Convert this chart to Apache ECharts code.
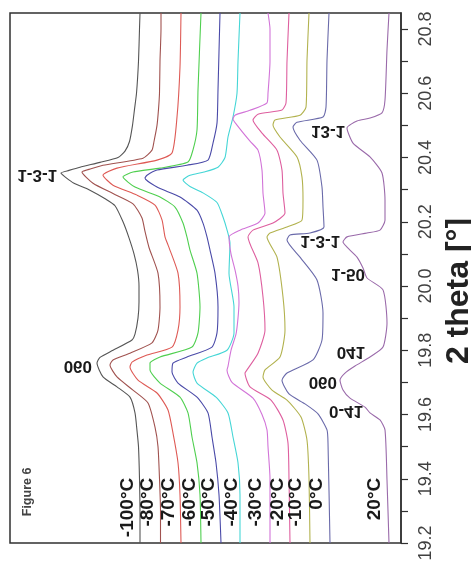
<!DOCTYPE html>
<html>
<head>
<meta charset="utf-8">
<script src="https://cdn.jsdelivr.net/npm/echarts@6/dist/echarts.min.js"></script>
<style>
html,body{margin:0;padding:0;background:#fff;}
#chart{width:471px;height:569px;}
</style>
</head>
<body>
<div id="chart"></div>
<script>
// Temperatures (series names)
const temperatures = ['-100°C','-80°C','-70°C','-60°C','-50°C','-40°C','-30°C','-20°C','-10°C','0°C','20°C'];

// Each curve: [2theta (deg), intensity (a.u., stacked offset)]
const curveM100 = [[20.85,261],[20.80,261.5],[20.70,262.5],[20.60,264.5],[20.55,266.5],[20.50,268.5],[20.45,271.5],[20.42,276],[20.40,283],[20.385,301],[20.37,321],[20.36,332],[20.352,340],[20.34,336],[20.32,327],[20.30,312],[20.27,295],[20.25,286],[20.20,278],[20.15,272],[20.10,267],[20.05,263.5],[20.00,262],[19.95,262],[19.90,263],[19.85,266],[19.832,269],[19.80,288],[19.778,301],[19.76,304],[19.717,298],[19.686,284],[19.654,271],[19.605,266],[19.55,264],[19.50,262.5],[19.40,261.5],[19.30,261],[19.20,261]];
const curveM80 = [[20.85,240],[20.80,240],[20.70,241],[20.60,241.5],[20.55,242.5],[20.50,244],[20.45,247],[20.423,249],[20.398,258],[20.376,298],[20.365,310],[20.355,319],[20.32,308],[20.288,288],[20.256,268],[20.212,259],[20.17,256],[20.12,252],[20.04,243],[19.935,241],[19.863,243],[19.823,249],[19.791,271],[19.77,288],[19.754,291],[19.717,284],[19.676,268],[19.636,253],[19.561,246],[19.50,243],[19.40,241.5],[19.30,240.5],[19.20,240.5]];
const curveM70 = [[20.85,220],[20.682,221],[20.526,224],[20.414,229],[20.392,244],[20.367,284],[20.345,298],[20.314,288],[20.283,264],[20.252,246],[20.206,239],[20.153,236],[20.128,233],[20.04,223],[19.935,221],[19.863,223],[19.81,229],[19.785,254],[19.763,269],[19.748,271],[19.707,263],[19.667,244],[19.614,233],[19.542,228],[19.45,223],[19.35,221],[19.20,220]];
const curveM60 = [[20.85,200],[20.61,203],[20.486,204],[20.424,208],[20.386,213],[20.367,241],[20.355,268],[20.34,278],[20.308,266],[20.277,241],[20.246,226],[20.196,218],[20.152,214],[20.112,211],[20.04,204],[19.935,201],[19.854,203],[19.81,209],[19.779,241],[19.76,251],[19.739,251],[19.698,241],[19.654,221],[19.605,213],[19.53,209],[19.45,204],[19.35,201],[19.20,200]];
const curveM50 = [[20.85,181],[20.61,183],[20.507,184],[20.445,188],[20.392,193],[20.376,214],[20.361,244],[20.345,254],[20.336,256],[20.308,244],[20.277,221],[20.236,204],[20.196,198],[20.153,194],[20.112,191],[20.04,186],[19.935,183],[19.854,184],[19.81,189],[19.779,214],[19.76,228],[19.732,229],[19.698,223],[19.654,204],[19.605,193],[19.53,189],[19.45,185],[19.35,182],[19.20,180]];
const curveM40 = [[20.85,161],[20.70,163],[20.60,164],[20.526,168],[20.464,173],[20.40,176],[20.37,183],[20.355,197],[20.345,211],[20.33,218],[20.31,211],[20.29,198],[20.26,184],[20.215,178],[20.175,174],[20.134,171],[20.04,172],[19.935,167],[19.854,167],[19.80,174],[19.776,194],[19.76,204],[19.732,208],[19.698,204],[19.654,185],[19.605,173],[19.53,168],[19.45,163],[19.35,161],[19.20,161]];
const curveM30 = [[20.85,133],[20.80,131],[20.70,131],[20.60,133],[20.57,134],[20.547,151],[20.532,166],[20.52,168],[20.501,164],[20.451,151],[20.423,143],[20.361,139],[20.289,138],[20.227,136],[20.196,143],[20.174,161],[20.153,172],[20.10,170],[20.05,166],[20.00,163],[19.95,162],[19.90,163],[19.85,165],[19.80,170],[19.75,173],[19.738,174],[19.70,169],[19.651,148],[19.60,139],[19.552,134],[19.50,133],[19.40,131],[19.30,131],[19.20,131]];
const curveM20 = [[20.85,112],[20.70,114],[20.57,115],[20.548,119],[20.535,143],[20.517,148],[20.476,139],[20.423,124],[20.361,119],[20.289,118],[20.227,116],[20.196,128],[20.174,148],[20.153,153],[20.072,143],[19.966,138],[19.863,136],[19.791,143],[19.739,154],[19.729,156],[19.686,151],[19.645,130],[19.583,118],[19.511,113],[19.40,112],[19.20,111]];
const curveM10 = [[20.85,92],[20.703,94],[20.557,95],[20.532,101],[20.517,126],[20.501,128],[20.464,121],[20.402,104],[20.339,99],[20.268,98],[20.205,99],[20.184,114],[20.165,131],[20.153,134],[20.09,124],[19.966,118],[19.863,116],[19.779,121],[19.739,136],[19.717,138],[19.676,129],[19.645,114],[19.592,100],[19.52,94],[19.40,92],[19.20,91]];
const curveP0 = [[20.85,72],[20.703,74],[20.557,75],[20.526,78],[20.51,104],[20.495,108],[20.454,101],[20.392,84],[20.308,79],[20.246,78],[20.184,77],[20.165,91],[20.159,111],[20.143,114],[20.09,101],[20.019,84],[19.916,78],[19.832,79],[19.77,88],[19.729,114],[19.707,119],[19.664,112],[19.633,96],[19.602,83],[19.552,74],[19.511,73],[19.20,71]];
const curveP20 = [[20.85,12],[20.735,14],[20.579,16],[20.539,19],[20.523,31],[20.514,44],[20.492,54],[20.445,48],[20.402,31],[20.352,19],[20.268,16],[20.205,16],[20.174,21],[20.165,34],[20.153,54],[20.137,58],[20.121,54],[20.09,44],[20.056,38],[20.025,34],[19.988,18],[19.885,14],[19.81,18],[19.779,31],[19.751,46],[19.729,56],[19.707,61],[19.676,58],[19.651,51],[19.623,36],[19.605,31],[19.583,21],[19.552,16],[19.396,14],[19.20,12]];

const curves = [curveM100, curveM80, curveM70, curveM60, curveM50, curveM40, curveM30, curveM20, curveM10, curveP0, curveP20];
const colors = ['#555555','#a0524f','#de5a55','#4fcf4f','#4a4aa8','#45d6d6','#d274d8','#de5f9f','#b2b24e','#6a6aaa','#9a6aaa'];

// Temperature labels: intensity position (a.u.) and 2theta of their upper end
const tempLabelIntensity = [273,253,232,211,192,169,145,123,105,84,26];
const tempLabelTheta = [19.403,19.403,19.403,19.403,19.403,19.403,19.403,19.403,19.403,19.403,19.403];

// Peak (hkl) labels
const peakLabels = ['1-3-1','060','13-1','1-3-1','1-50','041','060','0-41'];
const peakLabelTheta = [20.346,19.751,20.483,20.140,20.037,19.795,19.701,19.611];
const peakLabelIntensity = [344,309,56,61,36,36,64,38];

// Axis ticks and labels
const thetaTicks = [19.2,19.3,19.4,19.5,19.6,19.7,19.8,19.9,20.0,20.1,20.2,20.3,20.4,20.5,20.6,20.7,20.8];
const thetaTickLabels = [19.2,19.4,19.6,19.8,20.0,20.2,20.4,20.6,20.8];

const chart = echarts.init(document.getElementById('chart'), null, {renderer:'canvas'});

const series = curves.map((c, i) => ({
  name: temperatures[i],
  type: 'line',
  data: c.map(p => [p[1], p[0]]),
  showSymbol: false,
  symbol: 'none',
  smooth: 0.2,
  lineStyle: {color: colors[i], width: 1.1},
  itemStyle: {color: colors[i]},
  animation: false,
  silent: true,
  z: 2
}));

series.push({
  type: 'custom',
  name: 'temperature labels',
  data: tempLabelIntensity.map((v, i) => [v, tempLabelTheta[i]]),
  renderItem: (params, api) => {
    const p = api.coord([api.value(0), api.value(1)]);
    return {
      type: 'text', x: p[0], y: p[1], rotation: Math.PI / 2,
      style: {text: temperatures[params.dataIndex], font: 'bold 19px "Liberation Sans", Arial, sans-serif',
        fill: '#1a1a1a', align: 'right', verticalAlign: 'middle', textAlign: 'right', textVerticalAlign: 'middle'}
    };
  },
  animation: false, silent: true, z: 5
});

series.push({
  type: 'custom',
  name: 'peak labels',
  data: peakLabelIntensity.map((v, i) => [v, peakLabelTheta[i]]),
  renderItem: (params, api) => {
    const p = api.coord([api.value(0), api.value(1)]);
    return {
      type: 'text', x: p[0], y: p[1], scaleY: -1,
      style: {text: peakLabels[params.dataIndex], font: 'bold 17px "Liberation Sans", Arial, sans-serif',
        fill: '#1a1a1a', align: 'right', verticalAlign: 'middle', textAlign: 'right', textVerticalAlign: 'middle'}
    };
  },
  animation: false, silent: true, z: 5
});

series.push({
  type: 'custom',
  name: 'figure label',
  data: [[373, 19.359]],
  renderItem: (params, api) => {
    const p = api.coord([api.value(0), api.value(1)]);
    return {
      type: 'text', x: p[0], y: p[1], rotation: Math.PI / 2,
      style: {text: 'Figure 6', font: 'bold 12.5px "Liberation Sans", Arial, sans-serif',
        fill: '#444', align: 'center', verticalAlign: 'middle', textAlign: 'center', textVerticalAlign: 'middle'}
    };
  },
  animation: false, silent: true, z: 5
});

chart.setOption({
  animation: false,
  backgroundColor: '#ffffff',
  grid: {left: 10, right: 70, top: 13, bottom: 26, containLabel: false, outerBoundsMode: 'none',
    show: true, borderColor: '#303030', borderWidth: 1.5, backgroundColor: 'transparent'},
  xAxis: {type: 'value', min: 0, max: 391, inverse: true, show: false},
  yAxis: {
    type: 'value', position: 'right', min: 19.2, max: 20.85,
    name: '2 theta [°]', nameLocation: 'middle', nameRotate: 90, nameGap: 35,
    nameTextStyle: {fontFamily: '"Liberation Sans", Arial, sans-serif', fontWeight: 'bold', fontSize: 32, color: '#222', padding: [0, 26, 0, 0]},
    axisLine: {show: true, lineStyle: {color: '#303030', width: 1.5}},
    axisTick: {show: true, inside: false, length: 7, customValues: thetaTicks, lineStyle: {color: '#303030', width: 1.2}},
    axisLabel: {show: true, rotate: 90, margin: 16, customValues: thetaTickLabels,
      formatter: v => Number(v).toFixed(1),
      fontFamily: '"Liberation Sans", Arial, sans-serif', fontSize: 18, color: '#404040'},
    splitLine: {show: false}
  },
  series: series
});
</script>
</body>
</html>
